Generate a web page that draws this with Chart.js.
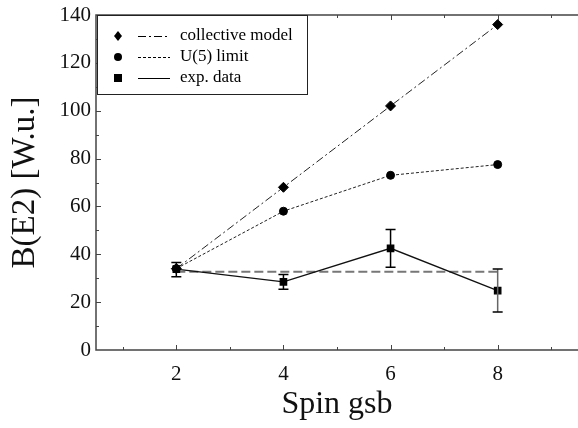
<!DOCTYPE html>
<html>
<head>
<meta charset="utf-8">
<script src="https://cdn.jsdelivr.net/npm/chart.js@4"></script>
<style>
  html, body { margin: 0; padding: 0; background: #fff; }
  #wrap { width: 578px; height: 428px; }
</style>
</head>
<body>
<div id="wrap"><canvas id="chart"></canvas></div>
<script>
// 데이터
const spins = [2, 4, 6, 8];
const collectiveModel = [34, 68, 102, 136];
const u5Limit = [34, 58, 73, 77.5];
const expData = [33.8, 28.5, 42.5, 24.8];
const expErrLow = [30.6, 25.4, 34.6, 15.9];
const expErrHigh = [36.6, 31.6, 50.4, 33.8];
const refSpins = [2, 8];
const refLevel = [32.7, 32.7];
const xTickLabels = [2, 4, 6, 8];

const serif = '"Liberation Serif", "DejaVu Serif", serif';

function toPoints(xs, ys) {
  return xs.map((v, i) => ({ x: v, y: ys[i] }));
}

// 테두리 + 안쪽 눈금
const framePlugin = {
  id: 'frame',
  afterDraw(chart) {
    const { ctx, chartArea: a, scales: { x, y } } = chart;
    ctx.save();
    ctx.strokeStyle = '#444';
    ctx.lineWidth = 1.5;
    ctx.beginPath();
    ctx.moveTo(a.right + 1, a.top);
    ctx.lineTo(a.left, a.top);
    ctx.lineTo(a.left, a.bottom);
    ctx.lineTo(a.right + 1, a.bottom);
    ctx.stroke();
    ctx.lineWidth = 1;
    for (let v = 1; v <= 9; v++) {
      const px = Math.round(x.getPixelForValue(v)) + 0.5;
      const len = v % 2 === 0 ? 5 : 3;
      ctx.beginPath();
      ctx.moveTo(px, a.bottom); ctx.lineTo(px, a.bottom - len);
      ctx.moveTo(px, a.top); ctx.lineTo(px, a.top + len);
      ctx.stroke();
    }
    for (let v = 10; v < 140; v += 10) {
      const py = Math.round(y.getPixelForValue(v)) + 0.5;
      const len = v % 20 === 0 ? 5 : 3;
      ctx.beginPath();
      ctx.moveTo(a.left, py); ctx.lineTo(a.left + len, py);
      ctx.stroke();
    }
    ctx.restore();
  }
};

// 오차 막대
const errorBarPlugin = {
  id: 'errorBars',
  afterDatasetsDraw(chart) {
    const { ctx, scales: { x, y } } = chart;
    ctx.save();
    spins.forEach((s, i) => {
      const px = x.getPixelForValue(s);
      const top = y.getPixelForValue(expErrHigh[i]);
      const bot = y.getPixelForValue(expErrLow[i]);
      ctx.strokeStyle = i === 3 ? '#666' : '#000';
      ctx.lineWidth = 1.5;
      ctx.beginPath();
      ctx.moveTo(px, top); ctx.lineTo(px, bot);
      ctx.stroke();
      ctx.strokeStyle = '#000';
      ctx.beginPath();
      ctx.moveTo(px - 5, top); ctx.lineTo(px + 5, top);
      ctx.moveTo(px - 5, bot); ctx.lineTo(px + 5, bot);
      ctx.stroke();
    });
    ctx.restore();
  }
};

// 범례 (마커 + 선 샘플 + 텍스트)
const legendPlugin = {
  id: 'customLegend',
  afterDraw(chart) {
    const { ctx, chartArea: a } = chart;
    const box = { left: a.left + 1, top: a.top, right: 307, bottom: 94 };
    ctx.save();
    ctx.fillStyle = '#fff';
    ctx.fillRect(box.left, box.top, box.right - box.left, box.bottom - box.top);
    ctx.strokeStyle = '#222';
    ctx.lineWidth = 1;
    ctx.strokeRect(box.left + 0.5, box.top + 0.5, box.right - box.left, box.bottom - box.top);
    const rows = [36, 57, 78];
    chart.data.datasets.slice(0, 3).forEach((ds, i) => {
      const cy = rows[i];
      ctx.fillStyle = '#000';
      ctx.beginPath();
      if (ds.pointStyle === 'rectRot') {
        ctx.moveTo(118, cy - 5); ctx.lineTo(122, cy); ctx.lineTo(118, cy + 5); ctx.lineTo(114, cy);
        ctx.closePath(); ctx.fill();
      } else if (ds.pointStyle === 'circle') {
        ctx.arc(118, cy, 4, 0, Math.PI * 2); ctx.fill();
      } else {
        ctx.fillRect(114, cy - 4, 8, 8);
      }
      ctx.strokeStyle = '#000';
      ctx.lineWidth = 1;
      ctx.setLineDash(ds.borderDash || []);
      ctx.beginPath();
      ctx.moveTo(138, cy + 0.5); ctx.lineTo(170, cy + 0.5);
      ctx.stroke();
      ctx.setLineDash([]);
      ctx.font = '17px ' + serif;
      ctx.textBaseline = 'middle';
      ctx.fillText(ds.label, 180, cy);
    });
    ctx.restore();
  }
};

const ctx = document.getElementById('chart').getContext('2d');

new Chart(ctx, {
  type: 'scatter',
  data: {
    datasets: [
      {
        label: 'collective model',
        data: toPoints(spins, collectiveModel),
        showLine: true,
        borderColor: '#222',
        borderWidth: 1,
        borderDash: [8, 3, 2, 3],
        pointStyle: 'rectRot',
        pointRadius: 5,
        backgroundColor: '#000',
        pointBorderColor: '#000'
      },
      {
        label: 'U(5) limit',
        data: toPoints(spins, u5Limit),
        showLine: true,
        borderColor: '#222',
        borderWidth: 1,
        borderDash: [3, 2],
        pointStyle: 'circle',
        pointRadius: 4,
        backgroundColor: '#000',
        pointBorderColor: '#000'
      },
      {
        label: 'exp. data',
        data: toPoints(spins, expData),
        showLine: true,
        borderColor: '#111',
        borderWidth: 1.3,
        pointStyle: 'rect',
        pointRadius: 4.5,
        backgroundColor: '#000',
        pointBorderColor: '#000'
      },
      {
        label: 'ref',
        data: toPoints(refSpins, refLevel),
        showLine: true,
        borderColor: '#777',
        borderWidth: 2,
        borderDash: [9, 4],
        pointRadius: 0
      }
    ]
  },
  options: {
    responsive: true,
    maintainAspectRatio: false,
    animation: false,
    layout: { autoPadding: false, padding: { top: 15, right: 0, left: 0, bottom: 0 } },
    plugins: {
      legend: { display: false },
      tooltip: { enabled: false }
    },
    scales: {
      x: {
        type: 'linear',
        min: 0.5,
        max: 9.5,
        grid: { display: false, drawTicks: false },
        border: { display: false },
        afterBuildTicks(scale) {
          scale.ticks = xTickLabels.map(v => ({ value: v }));
        },
        afterFit(scale) {
          scale.height = 78;
          scale.paddingLeft = 0;
          scale.paddingRight = 0;
        },
        ticks: {
          color: '#111',
          font: { family: serif, size: 21 },
          padding: 12
        },
        title: {
          display: true,
          text: 'Spin gsb',
          color: '#111',
          font: { family: serif, size: 32 },
          padding: { top: 0 }
        }
      },
      y: {
        min: 0,
        max: 140,
        grid: { display: false, drawTicks: false },
        border: { display: false },
        afterFit(scale) {
          scale.width = 96;
          scale.paddingTop = 0;
          scale.paddingBottom = 0;
        },
        ticks: {
          stepSize: 20,
          color: '#111',
          font: { family: serif, size: 21 },
          padding: 5
        },
        title: {
          display: true,
          text: 'B(E2) [W.u.]',
          color: '#111',
          font: { family: serif, size: 33 },
          padding: { top: 6, bottom: 0 }
        }
      }
    }
  },
  plugins: [framePlugin, errorBarPlugin, legendPlugin]
});
</script>
</body>
</html>
